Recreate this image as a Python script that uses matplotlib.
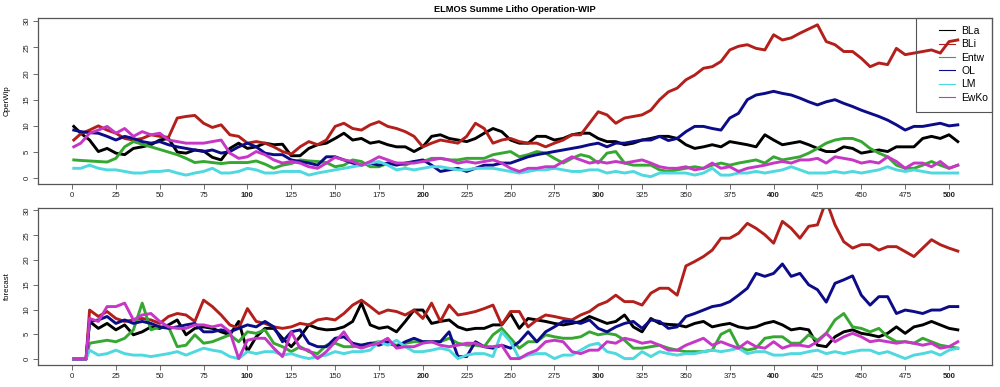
import matplotlib
matplotlib.use('Agg')
import matplotlib.pyplot as plt
from matplotlib.patches import Rectangle

plt.rcParams['font.family'] = ['Liberation Sans', 'DejaVu Sans']

serien = ['BLa', 'BLi', 'Entw', 'OL', 'LM', 'EwKo']
farben = ['#000000', '#b3201c', '#36a832', '#0c0c88', '#4ed8df', '#c637c6']

# x-Stuetzstellen (alle 5 Perioden)
x_oben = [1] + list(range(5, 506, 5))
x_unten = [1, 8] + list(range(10, 506, 5))

# --- OperWip (oben) ---
oben_BLa = [9.9, 8.6, 7.3, 5.1, 5.7, 4.8, 4.5, 5.7, 6.0, 6.4,
            7.3, 7.6, 5.0, 4.8, 5.4, 5.2, 4.0, 3.5, 5.7, 6.7,
            5.7, 6.0, 6.7, 6.4, 6.5, 4.3, 4.3, 5.7, 6.4, 6.7,
            7.6, 8.6, 7.3, 7.6, 6.7, 7.0, 6.4, 6.0, 6.0, 5.1,
            6.0, 8.0, 8.3, 7.6, 7.3, 7.0, 7.6, 8.6, 9.5, 8.9,
            7.3, 6.7, 6.7, 8.0, 8.0, 7.3, 7.6, 8.3, 8.6, 8.6,
            7.6, 7.0, 7.0, 6.4, 6.7, 7.3, 7.6, 8.0, 8.0, 7.6,
            6.4, 5.7, 6.0, 6.4, 6.0, 7.0, 6.7, 6.4, 6.0, 8.3,
            7.3, 6.4, 6.7, 7.0, 6.4, 5.7, 5.1, 5.1, 6.0, 5.7,
            4.8, 5.1, 5.4, 5.1, 6.0, 6.0, 6.0, 7.6, 8.0, 7.6,
            8.3, 7.0]
oben_BLi = [7.3, 8.5, 9.2, 10.0, 9.2, 8.6, 7.6, 7.3, 7.6, 8.3,
            8.0, 7.8, 11.5, 11.8, 12.0, 10.5, 9.7, 10.2, 8.3, 8.0,
            6.7, 7.0, 6.7, 6.0, 5.1, 4.6, 6.0, 7.0, 6.4, 7.3,
            9.9, 10.5, 9.5, 9.2, 10.2, 10.8, 9.9, 9.5, 8.9, 8.0,
            6.0, 6.7, 7.3, 7.0, 6.7, 8.0, 10.5, 9.5, 6.7, 7.3,
            7.6, 7.0, 6.7, 6.7, 6.0, 6.7, 7.3, 8.3, 8.3, 10.5,
            12.7, 12.1, 10.5, 11.5, 11.8, 12.1, 13.0, 15.0, 16.5, 17.2,
            18.8, 19.7, 21.0, 21.3, 22.3, 24.5, 25.2, 25.5, 24.8, 24.5,
            27.4, 26.4, 26.8, 27.7, 28.5, 29.3, 26.1, 25.5, 24.2, 24.2,
            22.9, 21.3, 22.0, 21.7, 24.8, 23.6, 23.9, 24.2, 24.5, 23.9,
            26.1, 26.4]
oben_Entw = [3.5, 3.4, 3.3, 3.2, 3.1, 3.8, 6.0, 7.0, 6.5, 6.0,
             5.5, 5.0, 4.5, 3.8, 3.0, 3.2, 3.0, 2.8, 3.0, 3.0,
             3.0, 3.3, 2.7, 1.9, 2.5, 2.8, 3.5, 3.3, 3.2, 3.0,
             2.2, 2.5, 3.5, 3.2, 2.2, 2.2, 2.9, 2.9, 2.5, 3.2,
             3.2, 3.8, 3.8, 3.5, 3.5, 3.8, 3.8, 3.8, 4.5, 4.8,
             5.1, 4.1, 4.5, 5.1, 4.8, 3.8, 2.9, 3.8, 4.5, 4.1,
             2.9, 4.8, 5.1, 2.9, 2.5, 2.5, 2.5, 1.6, 1.3, 1.6,
             1.9, 2.2, 1.9, 2.5, 2.9, 2.5, 2.9, 3.2, 3.5, 2.9,
             4.1, 3.5, 3.8, 4.1, 4.8, 5.7, 6.7, 7.3, 7.6, 7.6,
             7.0, 5.7, 4.8, 4.1, 2.5, 1.9, 1.9, 2.5, 3.2, 2.5,
             1.9, 2.5]
oben_OL = [9.2, 8.9, 8.7, 8.6, 8.0, 7.3, 8.0, 7.6, 7.0, 6.7,
           7.0, 6.4, 6.0, 5.7, 5.4, 5.1, 5.4, 4.8, 5.1, 6.0,
           6.7, 6.0, 4.8, 4.5, 4.5, 3.5, 3.2, 2.9, 2.5, 4.1,
           4.1, 3.5, 2.9, 2.5, 2.9, 2.5, 2.9, 2.5, 2.9, 3.2,
           3.5, 2.5, 1.3, 1.6, 1.9, 1.3, 1.9, 2.5, 2.5, 2.9,
           2.9, 3.5, 4.1, 4.5, 4.8, 5.1, 5.4, 5.7, 6.0, 6.4,
           6.7, 6.0, 6.7, 6.7, 7.0, 7.3, 7.3, 8.0, 7.2, 7.6,
           8.9, 9.9, 9.9, 9.5, 9.2, 11.5, 12.4, 15.0, 15.9, 16.2,
           16.6, 16.2, 15.9, 15.3, 14.6, 14.0, 14.6, 15.0, 14.3, 13.7,
           13.0, 12.4, 11.8, 11.1, 10.2, 9.2, 9.9, 9.9, 10.2, 10.5,
           10.0, 10.2]
oben_LM = [1.9, 1.9, 2.5, 1.9, 1.6, 1.6, 1.3, 1.0, 1.0, 1.3,
           1.3, 1.5, 1.0, 0.6, 1.0, 1.3, 1.9, 1.0, 1.0, 1.3,
           1.9, 1.6, 1.0, 1.0, 1.3, 1.3, 1.3, 0.6, 1.0, 1.3,
           1.6, 1.9, 2.2, 2.5, 2.9, 3.2, 2.5, 1.6, 1.9, 1.6,
           1.9, 2.2, 2.2, 1.9, 1.6, 1.6, 1.9, 1.9, 1.9, 1.6,
           1.3, 1.0, 1.3, 1.6, 1.6, 1.9, 1.6, 1.3, 1.3, 1.6,
           1.6, 1.0, 1.3, 1.0, 1.3, 0.6, 0.3, 1.0, 1.0, 1.0,
           1.0, 0.6, 1.0, 1.9, 0.6, 0.6, 1.0, 1.0, 1.3, 1.0,
           1.3, 1.6, 2.2, 1.6, 1.0, 1.0, 1.0, 1.3, 1.0, 1.3,
           1.0, 1.3, 1.6, 2.2, 1.6, 1.3, 1.6, 1.3, 1.0, 1.0,
           1.0, 1.0]
oben_EwKo = [6.0, 6.7, 8.6, 9.2, 9.9, 8.6, 9.5, 8.0, 8.9, 8.3,
             8.6, 7.3, 7.0, 6.7, 6.7, 6.7, 7.0, 7.3, 4.8, 3.8,
             4.1, 5.1, 4.5, 3.5, 2.9, 3.2, 2.9, 2.2, 1.9, 2.9,
             4.0, 3.5, 3.2, 2.5, 3.2, 4.1, 3.5, 2.9, 2.9, 2.9,
             3.2, 3.5, 3.8, 3.5, 2.9, 3.2, 2.9, 3.2, 3.5, 2.9,
             1.9, 1.3, 1.9, 1.9, 2.2, 2.2, 3.2, 4.1, 3.5, 2.9,
             3.2, 2.9, 3.2, 2.9, 3.2, 3.5, 2.9, 2.2, 1.9, 1.9,
             2.2, 1.6, 1.9, 2.9, 1.9, 2.2, 1.3, 1.9, 2.2, 2.5,
             2.9, 3.2, 2.9, 3.5, 3.5, 3.8, 2.9, 4.1, 3.8, 3.5,
             2.9, 3.2, 2.9, 4.1, 3.2, 1.9, 2.9, 2.9, 2.2, 3.2,
             1.9, 2.5]

# --- forecast (unten) ---
unten_BLa = [0, 0, 7.6, 6.2, 7.2, 5.9, 6.9, 4.9, 5.5, 6.5,
             6.2, 6.9, 7.9, 4.9, 6.2, 6.5, 6.2, 5.5, 4.9, 7.6,
             1.5, 4.5, 6.2, 6.2, 4.2, 2.5, 4.5, 6.9, 6.2, 5.9,
             6.0, 6.5, 7.6, 11.3, 6.9, 6.2, 6.5, 5.5, 7.6, 9.9,
             9.9, 7.2, 7.6, 7.9, 6.5, 5.9, 6.2, 6.2, 6.9, 6.9,
             9.2, 6.2, 8.2, 7.9, 7.6, 7.2, 6.9, 7.2, 7.6, 8.6,
             7.9, 7.2, 7.6, 8.9, 6.5, 5.5, 8.2, 7.2, 7.0, 6.9,
             6.5, 7.2, 7.6, 6.5, 6.9, 7.2, 6.5, 6.2, 6.5, 7.2,
             7.6, 6.9, 5.9, 6.2, 5.9, 2.8, 2.5, 4.5, 5.5, 5.9,
             5.2, 4.9, 4.5, 5.2, 6.5, 5.2, 6.5, 6.9, 7.6, 6.9,
             6.2, 5.9]
unten_BLi = [0, 0, 9.9, 8.6, 9.6, 8.2, 7.6, 7.9, 8.2, 7.9,
             7.2, 8.6, 9.2, 8.9, 7.6, 11.9, 10.6, 8.9, 6.9, 6.2,
             10.2, 7.6, 7.2, 6.5, 6.2, 6.5, 7.2, 6.9, 7.9, 8.2,
             7.9, 9.2, 10.9, 11.9, 10.6, 9.2, 9.9, 9.6, 8.9, 9.9,
             8.2, 11.3, 7.6, 10.9, 8.9, 9.2, 9.6, 10.2, 10.9, 6.9,
             9.6, 9.6, 6.5, 7.9, 8.9, 8.6, 8.2, 7.9, 8.9, 9.6,
             10.9, 11.6, 12.9, 11.6, 11.6, 10.9, 13.3, 14.3, 14.3, 12.9,
             18.8, 19.7, 20.7, 22.0, 24.4, 24.4, 25.4, 27.4, 26.4, 25.1,
             23.4, 27.8, 26.4, 24.4, 26.8, 27.1, 32.0, 27.1, 23.7, 22.4,
             23.1, 23.1, 22.0, 22.7, 22.7, 21.7, 20.7, 22.4, 24.1, 23.1,
             22.4, 21.8]
unten_Entw = [0, 0, 3.2, 3.5, 3.8, 3.5, 4.2, 5.9, 11.3, 5.9,
              6.5, 6.5, 2.5, 2.8, 4.9, 3.2, 3.5, 4.2, 4.9, 3.5,
              5.5, 5.2, 5.9, 3.2, 2.5, 1.5, 2.5, 1.5, 1.1, 2.8,
              3.2, 2.5, 2.5, 2.8, 3.2, 3.5, 3.2, 2.8, 3.2, 3.5,
              3.5, 3.5, 3.5, 4.2, 3.2, 2.8, 2.8, 2.5, 4.9, 6.2,
              4.2, 2.2, 3.5, 3.5, 4.9, 4.5, 4.2, 4.2, 4.5, 5.5,
              4.9, 5.2, 4.9, 3.8, 2.2, 2.2, 2.5, 2.8, 2.2, 1.8,
              1.5, 1.5, 1.5, 1.8, 5.0, 5.9, 2.5, 1.8, 2.2, 4.2,
              4.5, 4.5, 3.2, 3.2, 4.9, 3.8, 5.2, 7.9, 9.2, 6.5,
              6.2, 5.5, 6.2, 4.5, 3.5, 3.5, 3.2, 4.2, 3.5, 2.8,
              2.5, 2.2]
unten_OL = [0, 0, 7.6, 7.9, 8.6, 7.2, 7.9, 7.2, 7.6, 7.2,
            6.5, 6.2, 6.5, 6.9, 7.2, 5.5, 5.5, 5.9, 5.5, 6.2,
            6.9, 6.5, 7.6, 6.5, 3.5, 5.5, 5.9, 3.2, 2.5, 2.5,
            4.2, 4.5, 3.2, 2.8, 3.2, 2.8, 3.5, 2.5, 3.5, 4.2,
            3.5, 3.5, 3.5, 5.5, 0.5, 0.5, 3.5, 2.5, 2.2, 2.8,
            2.2, 3.5, 5.5, 3.5, 5.5, 6.5, 7.6, 7.6, 7.2, 7.9,
            6.2, 5.5, 6.5, 7.2, 7.6, 6.2, 7.9, 7.6, 6.2, 6.5,
            8.6, 9.2, 9.9, 10.6, 10.9, 11.6, 12.9, 14.3, 17.3, 16.7,
            17.3, 19.2, 16.7, 17.3, 15.0, 14.0, 11.5, 15.3, 16.0, 16.8,
            12.9, 10.9, 12.6, 12.6, 9.2, 9.9, 9.6, 9.2, 9.9, 9.9,
            10.6, 10.6]
unten_LM = [0, 0, 1.8, 0.8, 1.1, 1.8, 1.1, 0.8, 0.8, 0.5,
            0.8, 1.1, 1.5, 0.8, 1.5, 2.2, 1.8, 1.5, 0.5, 0.1,
            1.5, 1.1, 1.5, 1.5, 0.8, 1.1, 0.5, 0.1, 0.5, 0.8,
            1.5, 1.1, 1.5, 1.5, 1.8, 3.5, 2.8, 3.8, 2.5, 1.5,
            1.5, 1.8, 2.2, 1.8, 0.1, 0.8, 1.1, 1.1, 0.5, 5.5,
            3.5, 0.1, 0.8, 1.1, 1.1, 0.1, 0.8, 0.8, 1.8, 2.8,
            3.2, 1.5, 1.1, 0.1, 0.1, 1.5, 0.5, 1.5, 1.1, 0.8,
            1.1, 1.1, 1.5, 1.8, 1.5, 1.8, 2.2, 1.1, 1.5, 1.5,
            0.8, 0.8, 1.1, 1.1, 1.5, 1.8, 1.1, 1.5, 1.1, 1.5,
            1.8, 1.8, 1.1, 1.5, 0.8, 0.1, 0.8, 1.1, 1.5, 0.8,
            1.8, 2.2]
unten_EwKo = [0, 0, 8.2, 7.6, 10.6, 10.6, 11.3, 7.9, 8.9, 9.2,
              7.6, 6.5, 6.2, 6.2, 6.9, 6.9, 6.5, 6.9, 5.5, 0.1,
              3.8, 4.2, 4.2, 2.2, 0.5, 5.5, 2.2, 1.8, 0.1, 1.5,
              3.5, 5.5, 2.8, 2.2, 2.8, 3.2, 4.2, 2.2, 2.5, 2.5,
              3.2, 3.5, 2.8, 2.5, 2.8, 3.2, 3.2, 2.5, 2.5, 2.8,
              0.1, 0.1, 1.1, 1.8, 3.5, 3.8, 3.5, 1.5, 1.1, 1.8,
              1.8, 3.5, 3.2, 4.2, 3.8, 3.2, 3.5, 2.8, 1.8, 1.8,
              2.8, 3.5, 4.2, 2.8, 3.5, 2.8, 2.2, 3.5, 2.5, 2.2,
              3.5, 2.2, 2.8, 2.8, 2.5, 3.5, 5.2, 3.5, 4.5, 5.2,
              4.5, 3.5, 3.8, 3.5, 3.2, 3.5, 3.2, 2.8, 3.2, 2.2,
              2.5, 3.5]

oben = [oben_BLa, oben_BLi, oben_Entw, oben_OL, oben_LM, oben_EwKo]
unten = [unten_BLa, unten_BLi, unten_Entw, unten_OL, unten_LM, unten_EwKo]

x_ticks = list(range(0, 501, 25))
y_ticks = [0, 5, 10, 15, 20, 25, 30]

fig = plt.figure(figsize=(10, 3.87), dpi=100)
ax1 = fig.add_axes([0.038, 0.5245, 0.954, 0.429])
ax2 = fig.add_axes([0.038, 0.0568, 0.954, 0.4057])


def achse_stil(ax, ylim):
    ax.set_xlim(-19.4, 524.5)
    ax.set_ylim(*ylim)
    for s in ax.spines.values():
        s.set_color('#555555')
        s.set_linewidth(0.9)
    ax.set_xticks(x_ticks)
    ax.set_xticklabels([str(t) for t in x_ticks])
    for t, lbl in zip(x_ticks, ax.get_xticklabels()):
        if t > 0 and t % 100 == 0:
            lbl.set_fontweight('bold')
    ax.set_yticks(y_ticks)
    ax.set_yticklabels([str(t) for t in y_ticks], rotation=90, va='center')
    ax.tick_params(direction='out', length=3.5, width=0.6, labelsize=5.6,
                   pad=2, color='#555555', labelcolor='#222222')


for ax, daten, xs, ylim in [(ax1, oben, x_oben, (-1.1, 30.6)),
                            (ax2, unten, x_unten, (-1.2, 30.5))]:
    for name, farbe, werte in zip(serien, farben, daten):
        ax.plot(xs, werte, color=farbe, linewidth=2.1, label=name)
    achse_stil(ax, ylim)

# Legende oben rechts: duenne Linien, Rahmen separat wie bei R
handles = [plt.Line2D([], [], color=f, linewidth=0.8) for f in farben]
ax1.legend(handles, serien, loc='upper right',
           bbox_to_anchor=(0.988, 1 - 26 / 387),
           bbox_transform=fig.transFigure, borderaxespad=0, borderpad=0,
           fontsize=7.5, handlelength=1.5, handletextpad=0.6,
           labelspacing=0.32, frameon=False)
fig.add_artist(Rectangle((0.916, 1 - 112 / 387), 0.076, 94 / 387,
                         transform=fig.transFigure, fill=False,
                         edgecolor='#555555', linewidth=0.8))

fig.text(0.515, 1 - 10 / 387, 'ELMOS Summe Litho Operation-WIP',
         ha='center', va='center', fontsize=6.7, fontweight='bold')
fig.text(0.007, 0.739, 'OperWip', rotation=90, ha='center', va='center',
         fontsize=5.6)
fig.text(0.007, 0.2597, 'forecast', rotation=90, ha='center', va='center',
         fontsize=5.6)

fig.savefig('out.png', dpi=100)
